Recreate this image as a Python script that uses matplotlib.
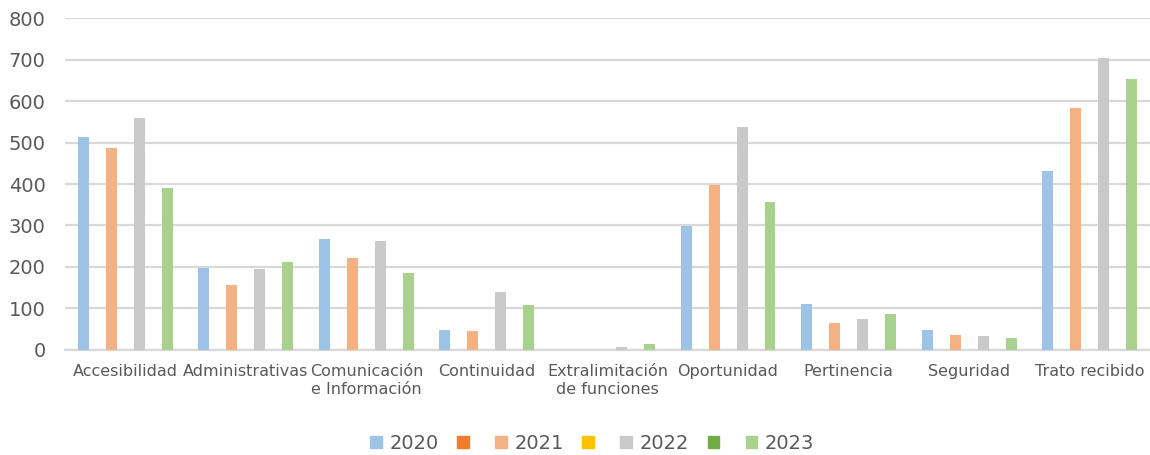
import numpy as np
import matplotlib
matplotlib.use('Agg')
import matplotlib.pyplot as plt
from matplotlib.patches import Rectangle

categorias = ['Accesibilidad', 'Administrativas', 'Comunicación\ne Información',
              'Continuidad', 'Extralimitación\nde funciones', 'Oportunidad',
              'Pertinencia', 'Seguridad', 'Trato recibido']

v2020 = [513, 198, 267, 47, 0, 299, 112, 48, 432]
v2021 = [486, 157, 222, 45, 0, 398, 66, 36, 584]
v2022 = [558, 196, 263, 140, 7, 537, 75, 34, 704]
v2023 = [390, 211, 186, 108, 14, 357, 86, 28, 654]
vacia = [np.nan] * len(categorias)  # series without data, only in the legend

series = [('2020', v2020, '#9DC3E6'),
          ('', vacia, '#ED7D31'),
          ('2021', v2021, '#F4B183'),
          ('', vacia, '#FFC000'),
          ('2022', v2022, '#C9C9C9'),
          ('', vacia, '#70AD47'),
          ('2023', v2023, '#A9D18E')]

gris_texto = '#595959'
gris_linea = '#D9D9D9'
plt.rcParams['font.family'] = ['DejaVu Sans']

fig = plt.figure(figsize=(11.5, 4.55), dpi=100)
ax = fig.add_axes([0.0565, 0.2308, 0.9435, 0.7296])

x = np.arange(len(categorias))
paso = 0.116
ancho = 0.091
for i, (nombre, vals, color) in enumerate(series):
    ax.bar(x + (i - 3) * paso, vals, width=ancho, color=color, zorder=3)

ax.set_xlim(-0.5, len(categorias) - 0.5)
ax.set_ylim(0, 800)
ax.set_yticks(range(0, 801, 100))
ax.yaxis.grid(True, color=gris_linea, linewidth=1.6, zorder=0)
for s in ['top', 'right', 'left']:
    ax.spines[s].set_visible(False)
ax.spines['bottom'].set_color(gris_linea)
ax.spines['bottom'].set_linewidth(1.6)
ax.tick_params(axis='y', length=0, labelsize=14, labelcolor=gris_texto, pad=14)
ax.tick_params(axis='x', length=0, labelsize=11.5, labelcolor=gris_texto, pad=10)
ax.set_xticks(x)
ax.set_xticklabels(categorias, linespacing=1.25)

handles = [Rectangle((0, 0), 1, 1, color=c) for _, _, c in series]
labels = [n for n, _, _ in series]
fig.legend(handles, labels, loc='center', bbox_to_anchor=(0.515, 0.026),
           ncol=len(series), frameon=False, fontsize=14, labelcolor=gris_texto,
           handlelength=0.6, handleheight=0.6, handletextpad=0.4,
           columnspacing=0.95, borderaxespad=0)

fig.savefig('out.png', dpi=100)
